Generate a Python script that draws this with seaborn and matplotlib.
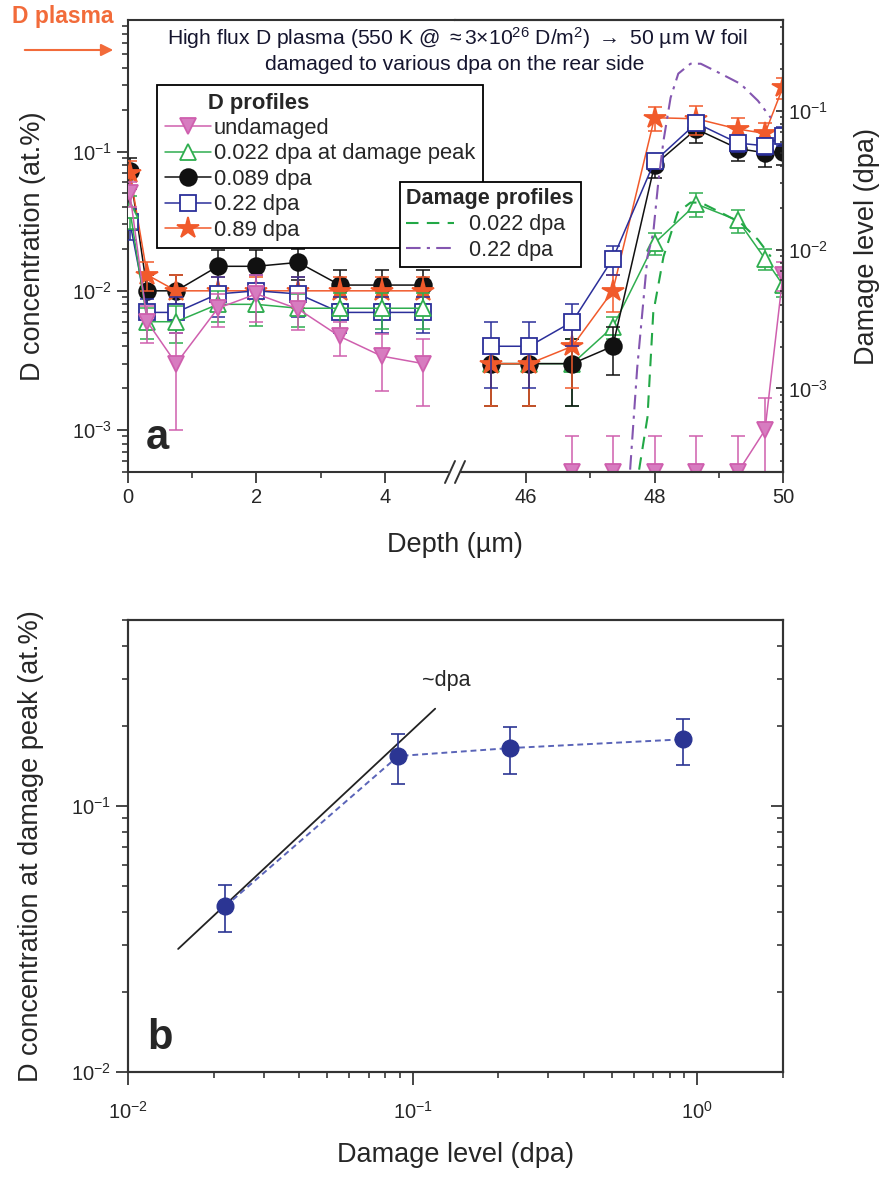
import matplotlib
matplotlib.use("Agg")
import matplotlib.pyplot as plt
import seaborn as sns
from matplotlib.lines import Line2D
from matplotlib.patches import Rectangle
from matplotlib.ticker import FixedLocator, NullFormatter, LogLocator

# ---------------------------
# Global settings
# ---------------------------
sns.set_style("ticks")
plt.rcParams['font.family'] = ['Liberation Sans', 'DejaVu Sans']
plt.rcParams['mathtext.fontset'] = 'custom'
plt.rcParams['mathtext.rm'] = 'Liberation Sans'
plt.rcParams['mathtext.it'] = 'Liberation Sans:italic'
plt.rcParams['mathtext.bf'] = 'Liberation Sans:bold'
plt.rcParams['axes.edgecolor'] = '#333333'
plt.rcParams['axes.linewidth'] = 1.5

# ---------------------------
# Data: panel a (D depth profiles)
# ---------------------------
depth_front = [0.03, 0.3, 0.75, 1.4, 2.0, 2.65, 3.3, 3.95, 4.6]
depth_rear = [45.45, 46.05, 46.72, 47.35, 48.0, 48.65, 49.3, 49.72, 50.0]
depth_rear_undamaged = [46.72, 47.35, 48.0, 48.65, 49.3, 49.72, 50.0]

undamaged_front = [0.05, 0.006, 0.003, 0.0075, 0.0095, 0.0074, 0.0047, 0.0034, 0.003]
undamaged_front_err = [0.01, 0.0018, 0.002, 0.002, 0.0035, 0.0022, 0.0013, 0.0015, 0.0015]
undamaged_rear = [0.0005, 0.0005, 0.0005, 0.0005, 0.0005, 0.001, 0.013]
undamaged_rear_err = [0.0004, 0.0004, 0.0004, 0.0004, 0.0004, 0.0007, 0.003]

dpa0022_front = [0.038, 0.006, 0.006, 0.008, 0.008, 0.0075, 0.0075, 0.0075, 0.0075]
dpa0022_front_err = [0.01, 0.0015, 0.0018, 0.002, 0.0024, 0.002, 0.0022, 0.0022, 0.0022]
dpa0022_rear = [0.003, 0.003, 0.003, 0.0055, 0.022, 0.042, 0.032, 0.017, 0.011]
dpa0022_rear_err = [0.0015, 0.0015, 0.0015, 0.001, 0.004, 0.008, 0.006, 0.003, 0.002]

dpa0089_front = [0.072, 0.01, 0.01, 0.015, 0.015, 0.016, 0.011, 0.011, 0.011]
dpa0089_front_err = [0.018, 0.003, 0.003, 0.0045, 0.0045, 0.004, 0.003, 0.003, 0.003]
dpa0089_rear = [0.003, 0.003, 0.003, 0.004, 0.08, 0.145, 0.105, 0.098, 0.1]
dpa0089_rear_err = [0.0015, 0.0015, 0.0015, 0.0015, 0.015, 0.03, 0.02, 0.02, 0.02]

dpa022_front = [0.031, 0.007, 0.007, 0.0095, 0.01, 0.0095, 0.007, 0.007, 0.007]
dpa022_front_err = [0.008, 0.0017, 0.002, 0.003, 0.003, 0.003, 0.002, 0.002, 0.002]
dpa022_rear = [0.004, 0.004, 0.006, 0.017, 0.085, 0.16, 0.115, 0.11, 0.13]
dpa022_rear_err = [0.002, 0.002, 0.002, 0.004, 0.01, 0.02, 0.015, 0.015, 0.02]

dpa089_front = [0.07, 0.013, 0.01, 0.01, 0.01, 0.01, 0.01, 0.01, 0.01]
dpa089_front_err = [0.015, 0.003, 0.003, 0.0025, 0.0025, 0.0025, 0.0025, 0.0025, 0.0025]
dpa089_rear = [0.003, 0.003, 0.004, 0.01, 0.175, 0.172, 0.145, 0.135, 0.29]
dpa089_rear_err = [0.0015, 0.0015, 0.002, 0.003, 0.035, 0.04, 0.03, 0.025, 0.05]

# damage profiles (right axis, dpa)
dmg_depth_0022 = [47.76, 47.89, 47.98, 48.14, 48.36, 48.56, 48.72, 49.03, 49.34, 49.61, 49.81]
dmg_0022 = [2.6e-4, 6.2e-4, 3.5e-3, 8.9e-3, 0.0185, 0.0218, 0.0218, 0.0185, 0.0156, 0.0118, 0.0089]
dmg_depth_022 = [47.62, 47.73, 47.89, 47.98, 48.06, 48.14, 48.25, 48.37, 48.56, 48.72, 49.03, 49.34, 49.61, 49.81]
dmg_022 = [2.6e-4, 1.4e-3, 8.9e-3, 0.0132, 0.031, 0.061, 0.124, 0.185, 0.218, 0.218, 0.185, 0.156, 0.118, 0.089]

# ---------------------------
# Data: panel b (D at damage peak)
# ---------------------------
peak_dpa = [0.022, 0.089, 0.22, 0.89]
peak_conc = [0.042, 0.154, 0.165, 0.178]
peak_err = [0.0085, 0.033, 0.033, 0.035]
fit_dpa = [0.015, 0.12]
fit_conc = [0.029, 0.232]

# ---------------------------
# Styles
# ---------------------------
PINK, GREEN, BLACK, BLUE, RED = '#cf5fae', '#2fae4f', '#111111', '#2b2f9a', '#f15a2b'
styles = {
    "undamaged": dict(color=PINK, marker='v', ms=12, mfc='#d77cc0'),
    "0.022 dpa at damage peak": dict(color=GREEN, marker='^', ms=12, mfc='white'),
    "0.089 dpa": dict(color=BLACK, marker='o', ms=12, mfc=BLACK),
    "0.22 dpa": dict(color=BLUE, marker='s', ms=11, mfc='white'),
    "0.89 dpa": dict(color=RED, marker='*', ms=16, mfc=RED),
}


def draw_series(ax, x, y, err, st, z):
    ax.errorbar(x, y, yerr=err, fmt='none', ecolor=st['color'], elinewidth=1.1,
                capsize=5, capthick=1.1, zorder=z)
    sns.lineplot(x=x, y=y, ax=ax, color=st['color'], lw=1.1, marker=st['marker'],
                 markersize=st['ms'], markerfacecolor=st['mfc'],
                 markeredgecolor=st['color'], markeredgewidth=1.3,
                 zorder=z + 0.5, legend=False)


fig = plt.figure(figsize=(8.87, 11.78), dpi=100)
ax_l = fig.add_axes([0.1443, 0.5993, 0.3692, 0.3837])
ax_r = fig.add_axes([0.5135, 0.5993, 0.3692, 0.3837])
ax_d = ax_r.twinx()
ax_b = fig.add_axes([0.1443, 0.0900, 0.7384, 0.3837])

for ax in (ax_l, ax_r):
    ax.set_yscale('log')
    ax.set_ylim(5e-4, 0.88)
ax_l.set_xlim(0, 5.1)
ax_r.set_xlim(44.9, 50.0)

# ---------------------------
# Panel a: D profiles
# ---------------------------
front_order = [
    ("0.089 dpa", dpa0089_front, dpa0089_front_err),
    ("0.89 dpa", dpa089_front, dpa089_front_err),
    ("0.22 dpa", dpa022_front, dpa022_front_err),
    ("0.022 dpa at damage peak", dpa0022_front, dpa0022_front_err),
    ("undamaged", undamaged_front, undamaged_front_err),
]
rear_order = [
    ("0.022 dpa at damage peak", depth_rear, dpa0022_rear, dpa0022_rear_err),
    ("0.089 dpa", depth_rear, dpa0089_rear, dpa0089_rear_err),
    ("0.89 dpa", depth_rear, dpa089_rear, dpa089_rear_err),
    ("0.22 dpa", depth_rear, dpa022_rear, dpa022_rear_err),
    ("undamaged", depth_rear_undamaged, undamaged_rear, undamaged_rear_err),
]
for i, (name, yf, ef) in enumerate(front_order):
    draw_series(ax_l, depth_front, yf, ef, styles[name], 2 + i)
for i, (name, xr, yr, er) in enumerate(rear_order):
    draw_series(ax_r, xr, yr, er, styles[name], 2 + i)

# damage profiles on right axis
ax_d.set_yscale('log')
ax_d.set_ylim(2.5e-4, 0.45)
sns.lineplot(x=dmg_depth_0022, y=dmg_0022, ax=ax_d, color='#22a846', lw=1.5,
             linestyle=(0, (6, 4)), legend=False)
sns.lineplot(x=dmg_depth_022, y=dmg_022, ax=ax_d, color='#8456b0', lw=1.5,
             linestyle=(0, (7, 3, 1.5, 3)), legend=False)
ax_d.set_xlim(44.9, 50.0)

# axes cosmetics
ax_l.spines['right'].set_visible(False)
ax_r.spines['left'].set_visible(False)
ax_d.spines['left'].set_visible(False)
ax_r.tick_params(axis='y', which='both', left=False, labelleft=False)
for ax in (ax_l, ax_r):
    ax.tick_params(axis='both', which='major', direction='out', length=8, width=1.2,
                   labelsize=14.5, top=False, right=False)
    ax.tick_params(axis='both', which='minor', direction='out', length=4.5, width=1.1,
                   top=False, right=False)
    ax.set_xlabel('')
    ax.set_ylabel('')
ax_l.yaxis.set_minor_locator(LogLocator(subs=range(2, 10)))
ax_l.yaxis.set_minor_formatter(NullFormatter())
ax_l.xaxis.set_major_locator(FixedLocator([0, 2, 4]))
ax_l.xaxis.set_minor_locator(FixedLocator([1, 3]))
ax_r.xaxis.set_major_locator(FixedLocator([46, 48, 50]))
ax_r.xaxis.set_minor_locator(FixedLocator([47, 49]))
ax_d.tick_params(axis='y', which='major', direction='in', length=5, width=1.2, labelsize=14.5)
ax_d.tick_params(axis='y', which='minor', direction='in', length=2.5, width=1.1)
ax_d.yaxis.set_minor_formatter(NullFormatter())
ax_d.tick_params(axis='x', which='both', bottom=False, top=False, labelbottom=False)

ax_l.set_ylabel('D concentration (at.%)', fontsize=19.5, labelpad=19)
ax_d.set_ylabel('Damage level (dpa)', fontsize=19.5, labelpad=19)
fig.text(455 / 887, 1 - 545 / 1178, 'Depth (µm)', fontsize=19.5, ha='center', va='center')
ax_l.text(0.055, 0.03, 'a', transform=ax_l.transAxes, fontsize=30, fontweight='bold',
          ha='left', va='bottom')

# axis break marks
fig.add_artist(Rectangle((449 / 887, 1 - 476 / 1178), 10 / 887, 8 / 1178,
                         transform=fig.transFigure, color='white', zorder=10))
for xb in (450, 460):
    fig.add_artist(Line2D([(xb - 5) / 887, (xb + 5) / 887], [1 - 483 / 1178, 1 - 461 / 1178],
                          transform=fig.transFigure, color='#333333', lw=1.4, zorder=11))

# titles and plasma arrow
fig.text(457 / 887, 1 - 38 / 1178,
         r'High flux D plasma (550 K @ $\approx$3$\times$10$^{26}$ D/m$^{2}$) $\rightarrow$ 50 µm W foil',
         fontsize=15.2, ha='center', va='center', color='#15152e')
fig.text(455 / 887, 1 - 65 / 1178, 'damaged to various dpa on the rear side',
         fontsize=15.2, ha='center', va='center', color='#15152e')
fig.text(12 / 887, 1 - 16 / 1178, 'D plasma', fontsize=16.5, fontweight='bold',
         color='#f26b3a', ha='left', va='center')
plt.annotate('', xy=(116 / 887, 1 - 50 / 1178), xytext=(22 / 887, 1 - 50 / 1178),
             xycoords='figure fraction', textcoords='figure fraction',
             arrowprops=dict(arrowstyle='-|>', color='#f26b3a', lw=1.5, mutation_scale=18))

# legends
h1, l1 = [], []
for name in ["undamaged", "0.022 dpa at damage peak", "0.089 dpa", "0.22 dpa", "0.89 dpa"]:
    st = styles[name]
    h1.append(Line2D([], [], color=st['color'], lw=1.1, marker=st['marker'], ms=st['ms'],
                     mfc=st['mfc'], mec=st['color'], mew=1.3))
    l1.append(name)
leg1 = fig.legend(h1, l1, loc='upper left', bbox_to_anchor=(157 / 887, 1 - 85 / 1178),
                  title='       D profiles', title_fontproperties={'weight': 'bold', 'size': 15.8},
                  alignment='left', fontsize=15.8, frameon=True, fancybox=False,
                  edgecolor='black', framealpha=1, handlelength=2.1, handletextpad=0.15,
                  labelspacing=0.2, borderpad=0.35, borderaxespad=0)
leg1.get_frame().set_linewidth(1.3)

h2 = [Line2D([], [], color='#22a846', lw=1.5, linestyle=(0, (6, 4))),
      Line2D([], [], color='#8456b0', lw=1.5, linestyle=(0, (7, 3, 1.5, 3)))]
leg2 = fig.legend(h2, ['0.022 dpa', '0.22 dpa'], loc='upper left',
                  bbox_to_anchor=(400 / 887, 1 - 182 / 1178),
                  title='Damage profiles', title_fontproperties={'weight': 'bold', 'size': 15.5},
                  alignment='left', fontsize=15.5, frameon=True, fancybox=False,
                  edgecolor='black', framealpha=1, handlelength=2.2, handletextpad=0.7,
                  labelspacing=0.22, borderpad=0.3, borderaxespad=0)
leg2.get_frame().set_linewidth(1.3)
leg2.set_zorder(20)

# ---------------------------
# Panel b: D at damage peak vs dpa
# ---------------------------
NAVY = '#2b3593'
ax_b.set_xscale('log')
ax_b.set_yscale('log')
ax_b.set_xlim(0.01, 2.0)
ax_b.set_ylim(0.01, 0.5)
sns.lineplot(x=fit_dpa, y=fit_conc, ax=ax_b, color='#222222', lw=1.3, legend=False, zorder=3)
ax_b.errorbar(peak_dpa, peak_conc, yerr=peak_err, fmt='none', ecolor=NAVY, elinewidth=1.2,
              capsize=5, capthick=1.2, zorder=4)
sns.lineplot(x=peak_dpa, y=peak_conc, ax=ax_b, color='#5a64b8', lw=1.4, linestyle=(0, (3, 2)),
             marker='o', markersize=12, markerfacecolor=NAVY, markeredgecolor=NAVY,
             markeredgewidth=1, legend=False, zorder=5)
ax_b.text(0.108, 0.27, '~dpa', fontsize=15.5, ha='left', va='bottom')
ax_b.text(0.03, 0.03, 'b', transform=ax_b.transAxes, fontsize=30, fontweight='bold',
          ha='left', va='bottom')

ax_b.tick_params(axis='both', which='major', direction='out', length=9, width=1.2,
                 labelsize=14.5, top=False, right=False)
ax_b.tick_params(axis='both', which='minor', direction='out', length=4.5, width=1.1,
                 top=False, right=False)
ax_b.tick_params(axis='x', which='major', pad=12)
ax_b.xaxis.set_minor_formatter(NullFormatter())
ax_b.yaxis.set_minor_formatter(NullFormatter())
ax_b.set_xlabel('Damage level (dpa)', fontsize=19.5, labelpad=14)
ax_b.set_ylabel('D concentration at damage peak (at.%)', fontsize=19.5, labelpad=19)

# inward mirror ticks on the right side of panel b
ax_b2 = ax_b.twinx()
ax_b2.set_yscale('log')
ax_b2.set_ylim(0.01, 0.5)
ax_b2.tick_params(axis='y', which='major', direction='in', length=9, width=1.2, labelright=False)
ax_b2.tick_params(axis='y', which='minor', direction='in', length=4.5, width=1.1)
ax_b2.yaxis.set_minor_formatter(NullFormatter())

fig.savefig('out.png', dpi=100)
